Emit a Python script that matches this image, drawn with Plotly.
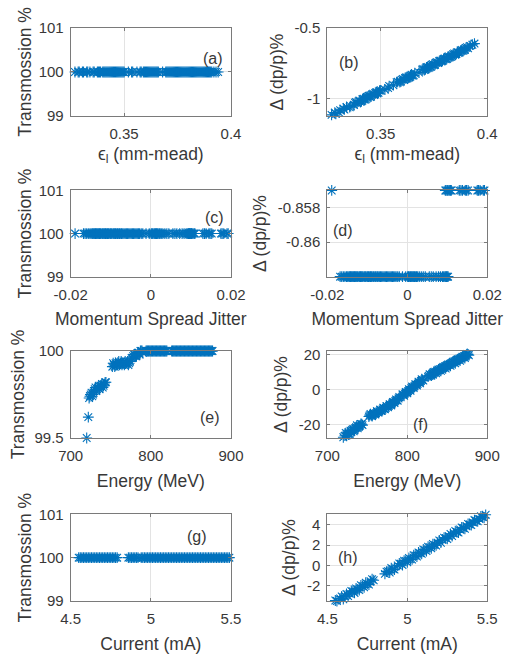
import plotly.graph_objects as go

# ---------------- data ----------------
emittance = [0.327, 0.329, 0.331, 0.333, 0.334, 0.336, 0.3375, 0.338, 0.339, 0.340, 0.341,
             0.342, 0.343, 0.344, 0.3445, 0.345, 0.346, 0.347, 0.3475, 0.348, 0.349, 0.350,
             0.352, 0.354, 0.356, 0.358, 0.359, 0.360, 0.361, 0.3615, 0.362, 0.363, 0.3635,
             0.364, 0.365, 0.366, 0.368, 0.370, 0.371, 0.372, 0.373, 0.3735, 0.374, 0.375,
             0.376, 0.3765, 0.377, 0.378, 0.379, 0.380, 0.381, 0.382, 0.3825, 0.383, 0.384,
             0.385, 0.3855, 0.386, 0.387, 0.388, 0.389, 0.3895, 0.390, 0.391, 0.393, 0.394,
             0.3285, 0.3305, 0.3325, 0.3355, 0.3385, 0.3405, 0.3415, 0.3425, 0.3435, 0.3455,
             0.3465, 0.3485, 0.3495, 0.3535, 0.3575, 0.3595, 0.3605, 0.3625, 0.3645, 0.3655,
             0.3695, 0.3705, 0.3715, 0.3725, 0.3745, 0.3755, 0.3775, 0.3785, 0.3795, 0.3805,
             0.3815, 0.3835, 0.3845, 0.3865, 0.3875, 0.3885, 0.3905, 0.392]
trans_emit = [100, 100, 100, 100, 100, 100, 100, 100, 100, 100, 100,
              100, 100, 100, 100, 100, 100, 100, 100, 100, 100, 100,
              100, 100, 100, 100, 100, 100, 100, 100, 100, 100, 100,
              100, 100, 100, 100, 100, 100, 100, 100, 100, 100, 100,
              100, 100, 100, 100, 100, 100, 100, 100, 100, 100, 100,
              100, 100, 100, 100, 100, 100, 100, 100, 100, 100, 100,
              100, 100, 100, 100, 100, 100, 100, 100, 100, 100,
              100, 100, 100, 100, 100, 100, 100, 100, 100, 100,
              100, 100, 100, 100, 100, 100, 100, 100, 100, 100,
              100, 100, 100, 100, 100, 100, 100, 100]
dp_emit = [-1.112, -1.104, -1.079, -1.074, -1.056, -1.051, -1.043, -1.027, -1.031, -1.012, -1.016,
           -0.998, -1.002, -0.983, -0.978, -0.986, -0.969, -0.972, -0.958, -0.953, -0.957, -0.939,
           -0.934, -0.909, -0.903, -0.879, -0.882, -0.864, -0.866, -0.852, -0.849, -0.851, -0.847,
           -0.834, -0.837, -0.819, -0.814, -0.789, -0.792, -0.774, -0.777, -0.774, -0.759, -0.762,
           -0.745, -0.741, -0.747, -0.730, -0.732, -0.715, -0.718, -0.700, -0.707, -0.703, -0.685,
           -0.688, -0.683, -0.670, -0.673, -0.655, -0.658, -0.653, -0.640, -0.643, -0.618, -0.610,
           -1.096, -1.095, -1.068, -1.058, -1.022, -1.020, -1.001, -1.006, -0.986, -0.983,
           -0.963, -0.961, -0.942, -0.923, -0.882, -0.878, -0.859, -0.856, -0.829, -0.834,
           -0.793, -0.797, -0.777, -0.782, -0.755, -0.759, -0.733, -0.737, -0.718, -0.721,
           -0.703, -0.699, -0.680, -0.676, -0.659, -0.661, -0.636, -0.626]

jitter = [-0.0189,
          -0.0168, -0.0160, -0.0152, -0.0146, -0.0142, -0.0138, -0.0134, -0.0130, -0.0126, -0.0121,
          -0.0117, -0.0113, -0.0108, -0.0104, -0.0099, -0.0094, -0.0090, -0.0085, -0.0080, -0.0075,
          -0.0070, -0.0064, -0.0058, -0.0052, -0.0046, -0.0040, -0.0034, -0.0028, -0.0020, -0.0012,
          -0.0004, 0.0003, 0.0008, 0.0012, 0.0016, 0.0021, 0.0026, 0.0035, 0.0045, 0.0055,
          0.0065, 0.0078, 0.0088, 0.0094, 0.0098, 0.0102,
          0.0095, 0.0100, 0.0105, 0.0110, 0.0130, 0.0138, 0.0145, 0.0152, 0.0175, 0.0182, 0.0193,
          -0.0164, -0.0156, -0.0149, -0.0144, -0.0140, -0.0136, -0.0132, -0.0128, -0.0124, -0.0119,
          -0.0115, -0.0111, -0.0106, -0.0101, -0.0097, -0.0092, -0.0088, -0.0083, -0.0078, -0.0073,
          -0.0067, -0.0061, -0.0055, -0.0049, -0.0043, -0.0037, -0.0031, -0.0024, 0.0001, 0.0005,
          0.0010, 0.0014, 0.0018, 0.0023, 0.0030, 0.0040, 0.0060, 0.0072, 0.0083, 0.0091,
          0.0096, 0.0100,
          0.0097, 0.0102, 0.0108, 0.0134, 0.0148, 0.0178, 0.0190]
trans_jitter = [100,
                100, 100, 100, 100, 100, 100, 100, 100, 100, 100,
                100, 100, 100, 100, 100, 100, 100, 100, 100, 100,
                100, 100, 100, 100, 100, 100, 100, 100, 100, 100,
                100, 100, 100, 100, 100, 100, 100, 100, 100, 100,
                100, 100, 100, 100, 100, 100,
                100, 100, 100, 100, 100, 100, 100, 100, 100, 100, 100,
                100, 100, 100, 100, 100, 100, 100, 100, 100, 100,
                100, 100, 100, 100, 100, 100, 100, 100, 100, 100,
                100, 100, 100, 100, 100, 100, 100, 100, 100, 100,
                100, 100, 100, 100, 100, 100, 100, 100, 100, 100,
                100, 100,
                100, 100, 100, 100, 100, 100, 100]
dp_jitter = [-0.857,
             -0.862, -0.862, -0.862, -0.862, -0.862, -0.862, -0.862, -0.862, -0.862, -0.862,
             -0.862, -0.862, -0.862, -0.862, -0.862, -0.862, -0.862, -0.862, -0.862, -0.862,
             -0.862, -0.862, -0.862, -0.862, -0.862, -0.862, -0.862, -0.862, -0.862, -0.862,
             -0.862, -0.862, -0.862, -0.862, -0.862, -0.862, -0.862, -0.862, -0.862, -0.862,
             -0.862, -0.862, -0.862, -0.862, -0.862, -0.862,
             -0.857, -0.857, -0.857, -0.857, -0.857, -0.857, -0.857, -0.857, -0.857, -0.857, -0.857,
             -0.862, -0.862, -0.862, -0.862, -0.862, -0.862, -0.862, -0.862, -0.862, -0.862,
             -0.862, -0.862, -0.862, -0.862, -0.862, -0.862, -0.862, -0.862, -0.862, -0.862,
             -0.862, -0.862, -0.862, -0.862, -0.862, -0.862, -0.862, -0.862, -0.862, -0.862,
             -0.862, -0.862, -0.862, -0.862, -0.862, -0.862, -0.862, -0.862, -0.862, -0.862,
             -0.862, -0.862,
             -0.857, -0.857, -0.857, -0.857, -0.857, -0.857, -0.857]

energy = [720, 722, 723, 724, 726, 728, 729, 730, 732, 734, 736, 737, 738, 740, 742, 744,
          752, 754, 756, 758, 760, 762, 764, 766, 768, 770, 772, 774,
          776, 778, 780, 782, 784, 786, 788, 790,
          794, 796, 798, 800, 802, 804, 806, 808, 810, 812, 814, 816, 818, 820,
          826, 828, 830, 833, 836, 839, 842, 845, 848, 851, 854, 857, 860, 863, 866, 869, 872, 875, 877,
          725, 727, 731, 733, 735, 739, 741, 743,
          753, 755, 757, 759, 761, 763, 765, 767, 769, 771, 773, 777, 779, 781, 783, 785, 787, 789,
          795, 797, 799, 801, 803, 805, 807, 809, 811, 813, 815, 817, 819,
          827, 829, 831, 832, 834, 835, 837, 838, 840, 841, 843, 844, 846, 847, 849, 850, 852,
          853, 855, 856, 858, 859, 861, 862, 864, 865, 867, 868, 870, 871, 873, 874, 876]
trans_energy = [99.50, 99.62, 99.73, 99.74, 99.76, 99.75, 99.77, 99.78, 99.77, 99.79, 99.78, 99.80,
                99.80, 99.79, 99.81, 99.82,
                99.91, 99.92, 99.93, 99.92, 99.94, 99.93, 99.92, 99.93, 99.94, 99.93, 99.92, 99.94,
                99.96, 99.97, 99.98, 99.97, 99.99, 99.98, 100.0, 99.99,
                100, 100, 100, 100, 100, 100, 100, 100, 100, 100, 100, 100, 100, 100,
                100, 100, 100, 100, 100, 100, 100, 100, 100, 100, 100, 100, 100, 100, 100, 100, 100,
                100, 100,
                99.75, 99.74, 99.79, 99.78, 99.80, 99.81, 99.80, 99.82,
                99.93, 99.91, 99.92, 99.93, 99.92, 99.94, 99.93, 99.92, 99.93, 99.94, 99.93,
                99.96, 99.98, 99.97, 99.98, 99.99, 100.0, 100.0,
                100, 100, 100, 100, 100, 100, 100, 100, 100, 100, 100, 100, 100,
                100, 100, 100, 100, 100, 100, 100, 100, 100, 100, 100, 100, 100, 100, 100, 100, 100,
                100, 100, 100, 100, 100, 100, 100, 100, 100, 100, 100, 100, 100, 100, 100, 100]
dp_energy = [-27.0, -26.1, -24.6, -25.8, -24.2, -25.1, -23.2, -23.9, -22.4, -23.0, -21.3, -20.2,
             -21.9, -20.6, -19.4, -20.1,
             -15.2, -13.8, -15.0, -13.2, -14.1, -12.2, -13.0, -11.3, -12.0, -10.2, -11.1, -9.3,
             -10.0, -8.2, -8.9, -6.9, -7.6, -5.5, -6.2, -4.1,
             -2.6, -3.4, -1.2, -2.0, 0.3, -0.6, 1.8, 1.0, 3.2, 2.4, 4.6, 3.7, 6.0, 5.2,
             7.4, 8.8, 8.0, 10.1, 9.4, 11.5, 10.8, 13.0, 12.1, 14.4, 13.6, 15.9, 15.0, 17.3, 16.5,
             18.8, 18.0, 20.3, 19.6,
             -24.9, -25.5, -22.9, -23.6, -21.8, -21.2, -20.3, -19.6,
             -14.4, -14.6, -14.1, -13.6, -13.4, -12.6, -12.3, -11.9, -11.2, -10.8, -10.3,
             -9.1, -8.6, -7.8, -7.1, -6.4, -5.9, -5.0,
             -3.0, -2.2, -1.6, -0.8, -0.1, 0.9, 1.5, 2.0, 2.9, 3.4, 4.1, 5.0, 5.6,
             8.0, 8.4, 9.1, 8.6, 9.6, 10.3, 10.2, 10.9, 11.1, 11.7, 11.8, 12.5, 12.6, 13.3, 13.2,
             13.9, 14.0, 14.7, 14.8, 15.4, 15.5, 16.2, 16.3, 16.9, 17.0, 17.6, 17.8, 18.4, 18.5,
             19.1, 19.3, 19.9, 20.1]

current = [4.55, 4.57, 4.59, 4.60, 4.62, 4.63, 4.65, 4.67, 4.68, 4.70,
           4.71, 4.73, 4.74, 4.76, 4.78, 4.87, 4.89, 4.90, 4.92, 4.95,
           4.97, 4.98, 5.00, 5.01, 5.03, 5.04, 5.06, 5.07, 5.09, 5.10,
           5.12, 5.13, 5.15, 5.16, 5.18, 5.20, 5.21, 5.23, 5.25, 5.27,
           5.28, 5.30, 5.32, 5.34, 5.36, 5.38, 5.40, 5.42, 5.44, 5.46,
           5.48, 5.49,
           4.56, 4.58, 4.61, 4.64, 4.66, 4.69, 4.72, 4.75, 4.77, 4.79,
           4.86, 4.88, 4.91, 4.94, 4.96, 4.99, 5.02, 5.05, 5.08, 5.11,
           5.14, 5.17, 5.19, 5.22, 5.24, 5.26, 5.29, 5.31, 5.33, 5.35,
           5.37, 5.39, 5.41, 5.43, 5.45, 5.47]
trans_current = [100, 100, 100, 100, 100, 100, 100, 100, 100, 100,
                 100, 100, 100, 100, 100, 100, 100, 100, 100, 100,
                 100, 100, 100, 100, 100, 100, 100, 100, 100, 100,
                 100, 100, 100, 100, 100, 100, 100, 100, 100, 100,
                 100, 100, 100, 100, 100, 100, 100, 100, 100, 100,
                 100, 100,
                 100, 100, 100, 100, 100, 100, 100, 100, 100, 100,
                 100, 100, 100, 100, 100, 100, 100, 100, 100, 100,
                 100, 100, 100, 100, 100, 100, 100, 100, 100, 100,
                 100, 100, 100, 100, 100, 100]
dp_current = [-3.45, -3.60, -3.05, -3.32, -2.80, -3.02, -2.50, -2.70, -2.25, -2.42,
              -1.95, -2.15, -1.70, -1.88, -1.35, -0.60, -0.70, -0.25, -0.40, 0.20,
              0.05, 0.48, 0.32, 0.75, 0.60, 1.02, 0.88, 1.30, 1.15, 1.58,
              1.42, 1.85, 1.70, 2.12, 1.98, 2.48, 2.25, 2.75, 2.62, 3.12,
              2.90, 3.40, 3.25, 3.75, 3.62, 4.10, 3.98, 4.48, 4.35, 4.85,
              4.70, 5.00,
              -3.50, -3.25, -3.00, -2.78, -2.55, -2.35, -2.02, -1.80, -1.55, -1.45,
              -0.82, -0.55, -0.35, 0.00, 0.18, 0.45, 0.62, 0.98, 1.22, 1.52,
              1.80, 2.02, 2.25, 2.55, 2.70, 2.88, 3.18, 3.30, 3.55, 3.70,
              3.88, 4.05, 4.25, 4.42, 4.60, 4.78]

panel_labels = ["(a)", "(b)", "(c)", "(d)", "(e)", "(f)", "(g)", "(h)"]
x_titles = ["ϵ<sub>l</sub> (mm-mead)", "Momentum Spread Jitter", "Energy (MeV)", "Current (mA)"]
y_titles = ["Transmossion %", "Δ (dp/p)%"]

# ---------------- style ----------------
FONT = "Liberation Sans, Arial, Helvetica, sans-serif"
TEXT = "#383838"
BLUE = "#0072BD"
AXIS = "#7a7a7a"
GRID = "#e3e3e3"

XDOM = [[0.1394, 0.4556], [0.6456, 0.9611]]
YDOM = [[0.8229, 0.9573], [0.5776, 0.7092], [0.3313, 0.4641], [0.0824, 0.2148]]
XT_STANDOFF = [6, 11, 11, 11]
YT_STANDOFF = [2, 6, 2, 6, 5, 6, 2, 6]

panels = [
    dict(x=emittance, y=trans_emit, col=0, row=0, xr=[0.325, 0.4], xt=[0.35, 0.4], xtt=["0.35", "0.4"],
         yr=[99, 101], yt=[99, 100, 101], ytt=["99", "100", "101"], lab=(0.3916, 100.3)),
    dict(x=emittance, y=dp_emit, col=1, row=0, xr=[0.325, 0.4], xt=[0.35, 0.4], xtt=["0.35", "0.4"],
         yr=[-1.12, -0.5], yt=[-1, -0.5], ytt=["-1", "-0.5"], lab=(0.335, -0.74)),
    dict(x=jitter, y=trans_jitter, col=0, row=1, xr=[-0.02, 0.02], xt=[-0.02, 0, 0.02], xtt=["-0.02", "0", "0.02"],
         yr=[99, 101], yt=[99, 100, 101], ytt=["99", "100", "101"], lab=(0.0158, 100.37)),
    dict(x=jitter, y=dp_jitter, col=1, row=1, xr=[-0.02, 0.02], xt=[-0.02, 0, 0.02], xtt=["-0.02", "0", "0.02"],
         yr=[-0.862, -0.857], yt=[-0.86, -0.858], ytt=["-0.86", "-0.858"], lab=(-0.0161, -0.8593)),
    dict(x=energy, y=trans_energy, col=0, row=2, xr=[700, 900], xt=[700, 800, 900], xtt=["700", "800", "900"],
         yr=[99.5, 100], yt=[99.5, 100], ytt=["99.5", "100"], lab=(873.8, 99.617)),
    dict(x=energy, y=dp_energy, col=1, row=2, xr=[700, 900], xt=[700, 800, 900], xtt=["700", "800", "900"],
         yr=[-27.4, 22], yt=[-20, 0, 20], ytt=["-20", "0", "20"], lab=(815.9, -20)),
    dict(x=current, y=trans_current, col=0, row=3, xr=[4.5, 5.5], xt=[4.5, 5, 5.5], xtt=["4.5", "5", "5.5"],
         yr=[99, 101], yt=[99, 100, 101], ytt=["99", "100", "101"], lab=(5.288, 100.49)),
    dict(x=current, y=dp_current, col=1, row=3, xr=[4.5, 5.5], xt=[4.5, 5, 5.5], xtt=["4.5", "5", "5.5"],
         yr=[-3.5, 5.05], yt=[-2, 0, 2, 4], ytt=["-2", "0", "2", "4"], lab=(4.63, 0.82)),
]

fig = go.Figure()
layout_axes = {}
annotations = []
for i, p in enumerate(panels):
    n = i + 1
    xa = "x" if n == 1 else f"x{n}"
    ya = "y" if n == 1 else f"y{n}"
    fig.add_trace(go.Scatter(
        x=p["x"], y=p["y"], xaxis=xa, yaxis=ya, mode="markers", cliponaxis=False,
        marker=dict(symbol="asterisk-open", size=9, color=BLUE, line=dict(color=BLUE, width=1.1)),
        showlegend=False, hoverinfo="skip"))
    common = dict(showline=True, linecolor=AXIS, linewidth=1, mirror="ticks",
                  ticks="inside", ticklen=3, tickcolor=AXIS, automargin=False,
                  showgrid=True, gridcolor=GRID, gridwidth=1, zeroline=False,
                  tickfont=dict(family=FONT, size=15, color=TEXT))
    layout_axes["xaxis" if n == 1 else f"xaxis{n}"] = dict(
        common, domain=XDOM[p["col"]], anchor=ya, range=p["xr"],
        tickvals=p["xt"], ticktext=p["xtt"], ticklabelstandoff=4,
        title=dict(text=x_titles[p["row"]], standoff=XT_STANDOFF[p["row"]],
                   font=dict(family=FONT, size=17.5, color=TEXT)))
    layout_axes["yaxis" if n == 1 else f"yaxis{n}"] = dict(
        common, domain=YDOM[p["row"]], anchor=xa, range=p["yr"],
        tickvals=p["yt"], ticktext=p["ytt"], ticklabelstandoff=3,
        title=dict(text=y_titles[p["col"]], standoff=YT_STANDOFF[i],
                   font=dict(family=FONT, size=17.5, color=TEXT)))
    annotations.append(dict(x=p["lab"][0], y=p["lab"][1], xref=xa, yref=ya, text=panel_labels[i],
                            showarrow=False, xanchor="center", yanchor="middle",
                            font=dict(family=FONT, size=16, color=TEXT)))

fig.update_layout(
    width=507, height=655, margin=dict(l=0, r=0, t=0, b=0, autoexpand=False),
    paper_bgcolor="white", plot_bgcolor="white",
    font=dict(family=FONT, color=TEXT),
    annotations=annotations, **layout_axes)

fig.write_html("out.html", config={"displayModeBar": False},
               post_script="document.body.style.margin='0px';document.body.style.overflow='hidden';")
